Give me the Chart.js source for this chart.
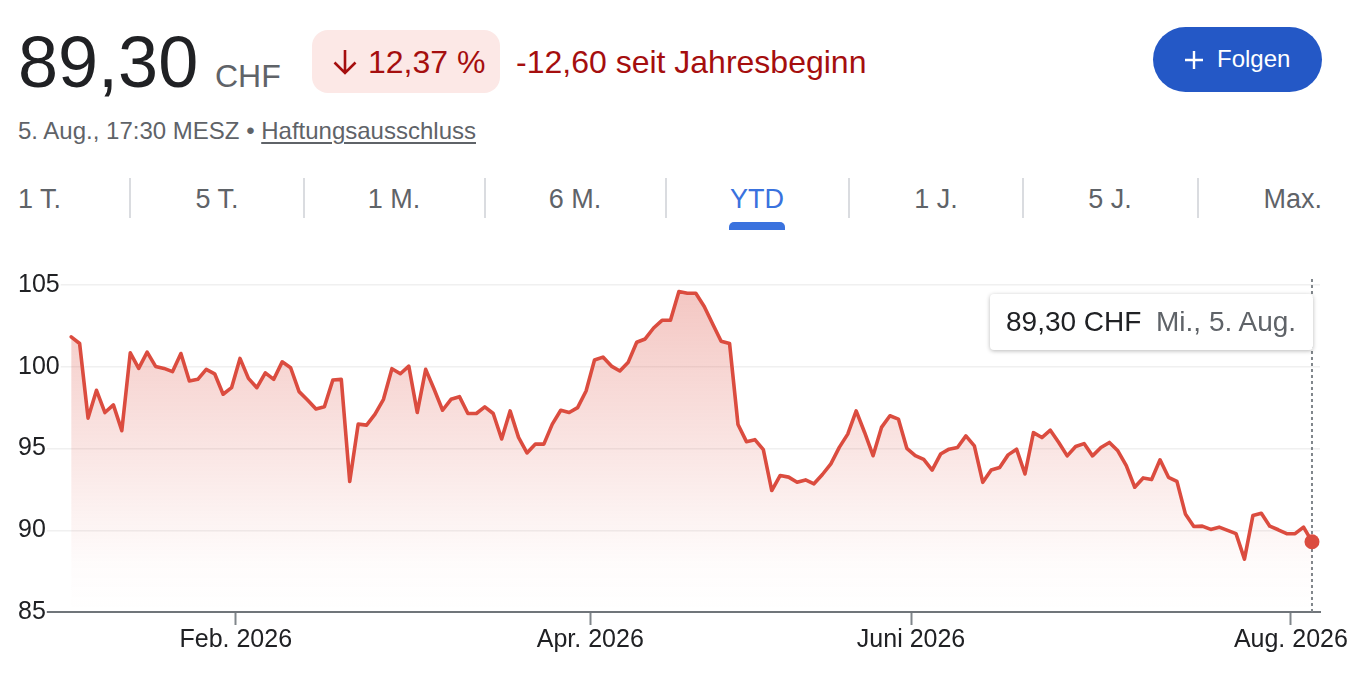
<!DOCTYPE html>
<html lang="de">
<head>
<meta charset="utf-8">
<title>89,30 CHF – YTD</title>
<script src="https://cdn.jsdelivr.net/npm/chart.js@4.4.1/dist/chart.umd.min.js"></script>
<style>
  html, body { margin: 0; padding: 0; background: #fff; }
  body { width: 1354px; height: 678px; position: relative; overflow: hidden;
         font-family: "Liberation Sans", Arial, Helvetica, sans-serif; }
  .abs { position: absolute; white-space: nowrap; }
  .price { left: 18px; top: 26px; font-size: 72px; line-height: 72px; color: #202124; }
  .cur { left: 215px; top: 60px; font-size: 32px; line-height: 32px; color: #5f6368; }
  .pill { left: 312px; top: 30px; width: 188px; height: 63px; border-radius: 16px; background: #fce8e6; }
  .chg { font-size: 32px; line-height: 32px; color: #a50e0e; top: 46px; }
  .btn { left: 1153px; top: 27px; width: 169px; height: 65px; border-radius: 33px; background: #2458c6; color: #fff; }
  .sub { left: 18px; top: 119px; font-size: 24px; line-height: 24px; color: #5f6368; }
  .sub u { text-decoration-thickness: 1.5px; text-underline-offset: 3px; }
  .tab { top: 186px; font-size: 27px; line-height: 27px; color: #5f6368; }
  .sep { top: 178px; width: 2px; height: 40px; background: #dadce0; }
  .tip { left: 990px; top: 294px; width: 323px; height: 56px; background: #fff; border-radius: 4px;
         box-shadow: 0 1px 4px rgba(0,0,0,0.28); }
  #wrap { position: absolute; left: 0; top: 250px; width: 1354px; height: 428px; }
</style>
</head>
<body>

<div class="abs price">89,30</div>
<div class="abs cur">CHF</div>
<div class="abs pill"></div>
<svg class="abs" style="left:331px;top:48px" width="28" height="28" viewBox="0 0 28 28">
  <path d="M14 2 V25 M3.5 14.5 L14 25 L24.5 14.5" fill="none" stroke="#a50e0e" stroke-width="2.6"/>
</svg>
<div class="abs chg" style="left:368px">12,37 %</div>
<div class="abs chg" style="left:516px">-12,60 seit Jahresbeginn</div>
<div class="abs btn">
  <svg class="abs" style="left:32px;top:24px" width="18" height="18" viewBox="0 0 18 18">
    <path d="M9 0 V18 M0 9 H18" stroke="#fff" stroke-width="2.4"/>
  </svg>
  <span class="abs" style="left:64px;top:20px;font-size:24px;line-height:24px;">Folgen</span>
</div>
<div class="abs sub">5. Aug., 17:30 MESZ • <u>Haftungsausschluss</u></div>

<div class="abs tab" style="left:18px">1 T.</div>
<div class="abs sep" style="left:129px"></div>
<div class="abs tab" style="left:217px;transform:translateX(-50%)">5 T.</div>
<div class="abs sep" style="left:303px"></div>
<div class="abs tab" style="left:394px;transform:translateX(-50%)">1 M.</div>
<div class="abs sep" style="left:484px"></div>
<div class="abs tab" style="left:575px;transform:translateX(-50%)">6 M.</div>
<div class="abs sep" style="left:665px"></div>
<div class="abs tab" style="left:757px;transform:translateX(-50%);color:#3a72de">YTD</div>
<div class="abs" style="left:729px;top:222px;width:56px;height:8px;border-radius:5px 5px 0 0;background:#3a72de"></div>
<div class="abs sep" style="left:848px"></div>
<div class="abs tab" style="left:936px;transform:translateX(-50%)">1 J.</div>
<div class="abs sep" style="left:1022px"></div>
<div class="abs tab" style="left:1110px;transform:translateX(-50%)">5 J.</div>
<div class="abs sep" style="left:1197px"></div>
<div class="abs tab" style="right:32px">Max.</div>

<div id="wrap"><canvas id="chart"></canvas></div>

<div class="abs tip">
  <span class="abs" style="left:16px;top:14px;font-size:28px;line-height:28px;color:#202124">89,30 CHF</span>
  <span class="abs" style="left:166px;top:14px;font-size:28px;line-height:28px;color:#5f6368">Mi., 5. Aug.</span>
</div>

<script>
// ── DATA (daily closes, YTD 2026, one per trading day) ──
const closes = [
  101.83, 101.42, 96.86, 98.56, 97.20, 97.67, 96.09, 100.85, 99.90, 100.89,
  100.02, 99.90, 99.70, 100.81, 99.13, 99.23, 99.84, 99.57, 98.32, 98.72,
  100.51, 99.29, 98.72, 99.63, 99.23, 100.30, 99.94, 98.48, 97.97, 97.42,
  97.55, 99.19, 99.23, 92.98, 96.49, 96.43, 97.10, 98.01, 99.88, 99.57,
  100.04, 97.20, 99.84, 98.62, 97.34, 98.01, 98.17, 97.14, 97.14, 97.55,
  97.14, 95.58, 97.30, 95.68, 94.73, 95.27, 95.27, 96.49, 97.34, 97.20,
  97.50, 98.52, 100.41, 100.59, 100.04, 99.74, 100.28, 101.50, 101.70, 102.37,
  102.84, 102.84, 104.60, 104.50, 104.50, 103.69, 102.62, 101.56, 101.42, 96.47,
  95.42, 95.54, 94.93, 92.43, 93.35, 93.25, 92.94, 93.08, 92.84, 93.41,
  94.06, 95.07, 95.88, 97.30, 95.98, 94.56, 96.29, 97.00, 96.80, 95.01,
  94.56, 94.33, 93.68, 94.66, 94.96, 95.06, 95.77, 95.16, 92.93, 93.68,
  93.84, 94.61, 94.96, 93.44, 95.97, 95.67, 96.12, 95.37, 94.55, 95.12,
  95.30, 94.55, 95.06, 95.37, 94.86, 93.95, 92.63, 93.20, 93.10, 94.31,
  93.24, 92.99, 91.00, 90.23, 90.25, 90.05, 90.19, 89.99, 89.79, 88.23,
  90.90, 91.04, 90.25, 90.03, 89.79, 89.79, 90.19, 89.30
];
// index of first trading day of each labelled month
const monthStarts = [20, 62, 100, 145];
const monthLabels = ['Feb. 2026', 'Apr. 2026', 'Juni 2026', 'Aug. 2026'];
const yTicks = [85, 90, 95, 100, 105];

const RED = '#db4c3f';
const FONT = '"Liberation Sans", Arial, Helvetica, sans-serif';

// fading fill under the line
function areaFill(c) {
  const { ctx, chartArea } = c.chart;
  if (!chartArea) return 'rgba(219, 76, 63, 0.1)';
  const g = ctx.createLinearGradient(0, chartArea.top, 0, chartArea.bottom);
  g.addColorStop(0, 'rgba(219, 76, 63, 0.32)');
  g.addColorStop(0.85, 'rgba(219, 76, 63, 0.02)');
  g.addColorStop(1, 'rgba(219, 76, 63, 0)');
  return g;
}

// dashed marker line at the last point
const crosshair = {
  id: 'crosshair',
  beforeDatasetsDraw(chart) {
    const { ctx, chartArea, scales } = chart;
    const x = scales.x.getPixelForValue(closes.length - 1);
    ctx.save();
    ctx.strokeStyle = '#80868b';
    ctx.lineWidth = 2;
    ctx.setLineDash([3, 3]);
    ctx.beginPath();
    ctx.moveTo(x, chartArea.top - 6);
    ctx.lineTo(x, chartArea.bottom);
    ctx.stroke();
    ctx.restore();
  }
};

// ── CHART ──
function initChart() {
  const ctx = document.getElementById('chart');
  const last = closes.length - 1;

  new Chart(ctx, {
    type: 'line',
    data: {
      datasets: [{
        data: closes.map((v, i) => ({ x: i, y: v })),
        borderColor: RED,
        borderWidth: 3.6,
        tension: 0,
        fill: 'start',
        backgroundColor: areaFill,
        pointRadius: c => c.dataIndex === last ? 7.5 : 0,
        pointHoverRadius: c => c.dataIndex === last ? 7.5 : 0,
        pointBackgroundColor: RED,
        pointBorderWidth: 0,
        borderJoinStyle: 'round',
        borderCapStyle: 'round'
      }]
    },
    options: {
      responsive: true,
      maintainAspectRatio: false,
      animation: false,
      events: [],
      layout: { padding: { top: 35, left: 18, right: 34, bottom: 0 } },
      plugins: { legend: { display: false }, tooltip: { enabled: false } },
      scales: {
        x: {
          type: 'linear',
          min: -6.3,
          max: 147.95,
          afterFit: s => { s.height = 66; },
          afterBuildTicks: s => { s.ticks = monthStarts.map(i => ({ value: i - 0.5 })); },
          grid: { drawOnChartArea: false, drawTicks: true, tickLength: 13, tickWidth: 2, tickColor: '#80868b' },
          border: { display: true, color: '#70757a', width: 2 },
          ticks: {
            autoSkip: false,
            maxRotation: 0,
            padding: 0,
            color: '#202124',
            font: { family: FONT, size: 25 },
            callback: (v, i) => monthLabels[i]
          }
        },
        y: {
          min: yTicks[0],
          max: yTicks[yTicks.length - 1],
          afterFit: s => { s.width = 0; },
          afterBuildTicks: s => { s.ticks = yTicks.map(v => ({ value: v })); },
          grid: { color: '#f0f0f0', lineWidth: 1.5, drawTicks: false },
          border: { display: false },
          ticks: {
            mirror: true,
            padding: 0,
            z: 1,
            color: '#202124',
            font: { family: FONT, size: 25 },
            showLabelBackdrop: true,
            backdropColor: '#ffffff',
            backdropPadding: { top: 2, bottom: 2, left: 1, right: 1 }
          }
        }
      }
    },
    plugins: [crosshair]
  });
}

document.addEventListener('DOMContentLoaded', initChart);
</script>
</body>
</html>
